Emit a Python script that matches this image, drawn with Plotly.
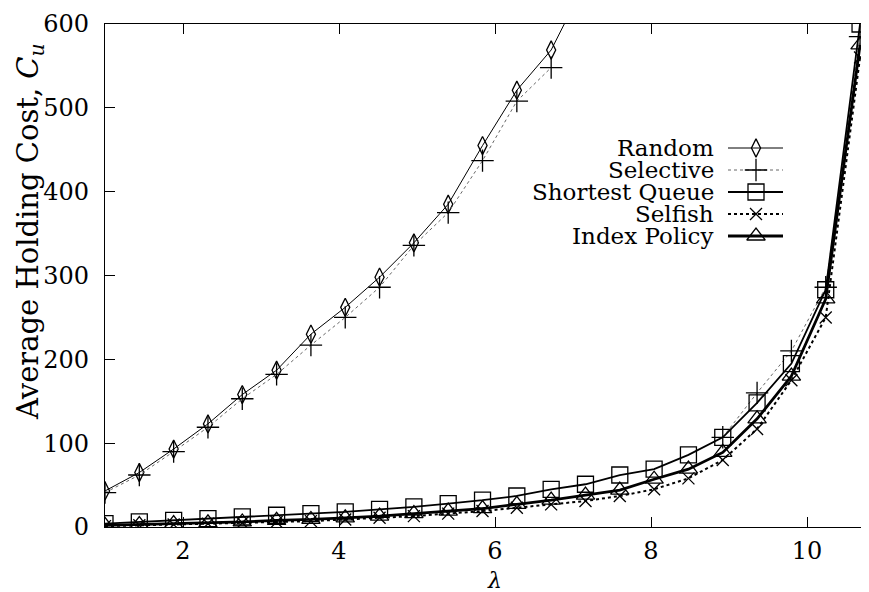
import plotly.graph_objects as go

# ---------------- data ----------------
lam = [1.00, 1.44, 1.88, 2.32, 2.76, 3.20, 3.64, 4.08, 4.52, 4.96, 5.40, 5.84,
       6.28, 6.72, 7.16, 7.60, 8.04, 8.48, 8.92, 9.36, 9.80, 10.24, 10.68]

random_cost = [43, 65, 93, 123, 158, 187, 230, 262, 298, 339, 385, 455,
               521, 569, 650, None, None, None, None, None, None, None, None]
selective_cost = [41, 62, 90, 119, 153, 182, 217, 250, 286, 336, 375, 437,
                  508, 548, None, None, None, None, 107, 160, 210, 286, 585]
shortest_queue_cost = [4, 6, 8, 10, 12, 14, 16, 18, 21, 24, 28, 32,
                       37, 45, 51, 62, 69, 86, 107, 148, 195, 283, 600]
selfish_cost = [1, 2, 3, 4, 5, 6, 7, 9, 11, 13, 16, 19,
                23, 27, 31, 37, 45, 58, 80, 117, 175, 250, 560]
index_policy_cost = [2, 3, 4, 5, 6, 8, 9, 11, 13, 16, 19, 22,
                     27, 32, 38, 44, 57, 69, 89, 129, 180, 272, 575]

series_names = ["Random", "Selective", "Shortest Queue", "Selfish", "Index Policy"]
series_values = [random_cost, selective_cost, shortest_queue_cost, selfish_cost, index_policy_cost]

x_ticks = [2, 4, 6, 8, 10]
y_ticks = [0, 100, 200, 300, 400, 500, 600]

# ---------------- styles ----------------
FONT = "DejaVu Serif"
styles = [
    dict(line=dict(color="black", width=1.0, dash="solid"),
         marker=dict(symbol="diamond-tall-open", size=13, color="black", line=dict(width=1.3, color="black"))),
    dict(line=dict(color="#666666", width=1.0, dash="dot"),
         marker=dict(symbol="cross-thin-open", size=16, color="black", line=dict(width=1.3, color="black"))),
    dict(line=dict(color="black", width=1.8, dash="solid"),
         marker=dict(symbol="square-open", size=16, color="black", line=dict(width=1.3, color="black"))),
    dict(line=dict(color="black", width=2.0, dash="dot"),
         marker=dict(symbol="x-thin-open", size=12, color="black", line=dict(width=1.3, color="black"))),
    dict(line=dict(color="black", width=2.8, dash="solid"),
         marker=dict(symbol="triangle-up-open", size=16, color="black", line=dict(width=1.3, color="black"))),
]

W, H = 869, 592
ML, MR, MT, MB = 97, 0, 16, 73
PW, PH = W - ML - MR, H - MT - MB


def px_to_paper_x(px):
    return (px - ML) / PW


def px_to_paper_y(py):
    return (H - MB - py) / PH


fig = go.Figure()

for name, vals, st in zip(series_names, series_values, styles):
    fig.add_trace(go.Scatter(x=lam, y=vals, name=name, mode="lines+markers",
                             line=st["line"], marker=st["marker"],
                             connectgaps=False, showlegend=False, cliponaxis=True))

# ---------------- gnuplot-like legend (text right-aligned, sample on right) ----------------
legend_text_right = 708
sample_x0, sample_x1, sample_xm = 720, 775, 748
row_y0, row_step = 140, 22
for i, (name, st) in enumerate(zip(series_names, styles)):
    ry = px_to_paper_y(row_y0 + i * row_step)
    fig.add_annotation(x=px_to_paper_x(legend_text_right), y=ry, xref="paper", yref="paper",
                       text=name, showarrow=False, xanchor="right", yanchor="middle",
                       font=dict(family=FONT, size=23, color="black"))
    fig.add_trace(go.Scatter(x=[px_to_paper_x(sample_x0), px_to_paper_x(sample_x1)], y=[ry, ry],
                             mode="lines", line=st["line"], xaxis="x2", yaxis="y2",
                             showlegend=False, hoverinfo="skip"))
    fig.add_trace(go.Scatter(x=[px_to_paper_x(sample_xm)], y=[ry],
                             mode="markers", marker=st["marker"], xaxis="x2", yaxis="y2",
                             showlegend=False, hoverinfo="skip"))

# ---------------- axis titles ----------------
fig.add_annotation(x=px_to_paper_x(22), y=px_to_paper_y(224), xref="paper", yref="paper",
                   text="Average Holding Cost, <i>C<sub>u</sub></i>", textangle=-90,
                   showarrow=False, xanchor="center", yanchor="middle",
                   font=dict(family=FONT, size=29, color="black"))
fig.add_annotation(x=px_to_paper_x(486), y=px_to_paper_y(572), xref="paper", yref="paper",
                   text="<i>λ</i>", showarrow=False, xanchor="center", yanchor="middle",
                   font=dict(family=FONT, size=22, color="black"))

axis_common = dict(showgrid=False, zeroline=False, showline=True, linecolor="black",
                   linewidth=1.2, mirror="ticks", ticks="inside", ticklen=10,
                   tickwidth=1.2, tickcolor="black",
                   tickfont=dict(family=FONT, size=24, color="black"))

fig.update_layout(
    width=W, height=H,
    margin=dict(l=ML, r=MR, t=MT, b=MB),
    paper_bgcolor="white", plot_bgcolor="white",
    showlegend=False,
    font=dict(family=FONT, color="black"),
    xaxis=dict(range=[1.0, 1.0 + PW / 78.0], tickvals=x_ticks, ticktext=[str(v) for v in x_ticks],
               ticklabelstandoff=2, **axis_common),
    yaxis=dict(range=[0, 600], tickvals=y_ticks, ticktext=[str(v) for v in y_ticks],
               ticklabelstandoff=10, **axis_common),
    xaxis2=dict(overlaying="x", anchor="y2", range=[0, 1], visible=False),
    yaxis2=dict(overlaying="y", anchor="x2", range=[0, 1], visible=False),
)

fig.write_html("out.html")
